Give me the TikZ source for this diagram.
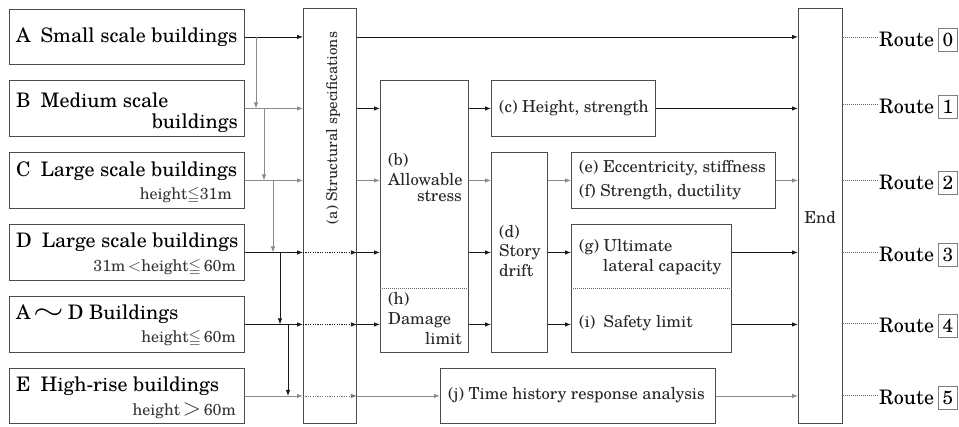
\documentclass[tikz,border=0pt]{standalone}
\usepackage{amssymb}
\usepackage{fontspec}
\setmainfont{TeX Gyre Schola}
\usetikzlibrary{arrows.meta}
\begin{document}
\begin{tikzpicture}[x=1pt,y=-1pt,
 box/.style={draw=black!70, line width=0.9pt, inner sep=0pt, anchor=north west},
 big/.style={font=\fontsize{20}{25}\selectfont, text=black, inner sep=0pt},
 sub/.style={font=\fontsize{16}{20}\selectfont, text=black!80, inner sep=0pt},
 intext/.style={font=\fontsize{16.5}{20}\selectfont, text=black!85, inner sep=0pt},
 arr/.style={draw=black!90, line width=0.8pt, -{Latex[length=6pt,width=4.5pt]}},
 garr/.style={arr, draw=black!45},
 darr/.style={arr, dash pattern=on 1.2pt off 1.2pt},
 divline/.style={draw=black!60, line width=0.8pt, dash pattern=on 1pt off 1pt},
 rline/.style={draw=black!60, line width=0.7pt, dash pattern=on 1pt off 1pt},
 route/.style={font=\fontsize{20}{24}\selectfont, inner sep=0pt},
 digit/.style={font=\fontsize{19}{24}\selectfont, draw=black!50, line width=0.6pt, inner sep=0pt, minimum width=19pt, minimum height=23pt},
]
\useasboundingbox (0,0) rectangle (959,426);
% left boxes
\node[box, minimum width=235pt, minimum height=55pt] (A) at (9,9) {};
\node[box, minimum width=235pt, minimum height=56pt] (B) at (9,80) {};
\node[box, minimum width=235pt, minimum height=56pt] (C) at (9,152) {};
\node[box, minimum width=235pt, minimum height=56pt] (D) at (9,224) {};
\node[box, minimum width=235pt, minimum height=56pt] (AD) at (9,296) {};
\node[box, minimum width=235pt, minimum height=55pt] (E) at (9,368) {};
% left texts
\node[big, anchor=west] (At) at (16,37) {A\enspace Small scale buildings};
\node[big, anchor=west] (Bt1) at (16,100) {B\enspace Medium scale};
\node[big, anchor=east] (Bt2) at (238,123) {buildings};
\node[big, anchor=west] (Ct1) at (16,171) {C\enspace Large scale buildings};
\node[sub, anchor=east] (Ct2) at (232,195) {height$\leqq$31m};
\node[big, anchor=west] (Dt1) at (16,242) {D\enspace Large scale buildings};
\node[sub, anchor=east] (Dt2) at (236,267) {31m\,$<$height$\leqq$\,60m};
\node[big, anchor=west] (ADt1) at (16,314) {A\,\scalebox{1.9}[1.4]{$\sim$}\,D Buildings};
\node[sub, anchor=east] (ADt2) at (236,338) {height$\leqq$\,60m};
\node[big, anchor=west] (Et1) at (16,386) {E\enspace High-rise buildings};
\node[sub, anchor=east] (Et2) at (236,411) {height\,\scalebox{1.4}{$>$}\,60m};
% middle boxes
\node[box, minimum width=53pt, minimum height=415pt] (a) at (303,8) {};
\node[box, minimum width=88pt, minimum height=272pt] (b) at (380,80) {};
\node[box, minimum width=164pt, minimum height=56pt] (c) at (491,80) {};
\node[box, minimum width=56pt, minimum height=200pt] (d) at (491,152) {};
\node[box, minimum width=204pt, minimum height=56pt] (ef) at (571,152) {};
\node[box, minimum width=160pt, minimum height=128pt] (gi) at (571,224) {};
\node[box, minimum width=275pt, minimum height=55pt] (j) at (440,368) {};
\node[box, minimum width=44pt, minimum height=415pt] (End) at (798,8) {};
\coordinate (hdiv) at (0,288);
\draw[divline] (b.west |- hdiv) -- (b.east |- hdiv);
\draw[divline] (gi.west |- hdiv) -- (gi.east |- hdiv);
% inner texts
\node[intext, rotate=90, font=\fontsize{15}{19}\selectfont] (at) at (333,128) {(a) Structural specifications};
\node[intext, anchor=west] (bt1) at (388,160) {(b)};
\node[intext, anchor=west] (bt2) at (388,180) {Allowable};
\node[intext, anchor=east] (bt3) at (462,196) {stress};
\node[intext, anchor=west] (ht1) at (388,299) {(h)};
\node[intext, anchor=west] (ht2) at (388,320) {Damage};
\node[intext, anchor=east] (ht3) at (462,339) {limit};
\node[intext, anchor=west] (ct) at (499,108) {(c) Height, strength};
\node[intext, anchor=west] (dt1) at (499,232) {(d)};
\node[intext, anchor=west] (dt2) at (499,252) {Story};
\node[intext, anchor=west] (dt3) at (499,271) {drift};
\node[intext, anchor=west] (et) at (579,168) {(e) Eccentricity, stiffness};
\node[intext, anchor=west] (ft) at (579,192) {(f) Strength, ductility};
\node[intext, anchor=west] (gt1) at (579,247) {(g) Ultimate};
\node[intext, anchor=west] (gt2) at (603,267) {lateral capacity};
\node[intext, anchor=west] (it) at (579,323) {(i)\enspace Safety limit};
\node[intext, anchor=west] (jt) at (448,395) {(j) Time history response analysis};
\node[intext] (endt) at (820,218) {End};
% left connectors
\draw[arr] (A.east) -- (A.east -| a.west);
\draw[garr] (B.east) -- (B.east -| a.west);
\draw[garr] (C.east) -- (C.east -| a.west);
\draw[arr] (D.east) -- (D.east -| a.west);
\draw[arr] (AD.east) -- (AD.east -| a.west);
\draw[garr] (E.east) -- (E.east -| a.west);
\coordinate (v1) at (256,0);
\coordinate (v2) at (264,0);
\coordinate (v3) at (273,0);
\coordinate (v4) at (280,0);
\coordinate (v5) at (288,0);
\draw[garr] (v1 |- A.east) -- (v1 |- B.east);
\draw[garr] (v2 |- B.east) -- (v2 |- C.east);
\draw[garr] (v3 |- C.east) -- (v3 |- D.east);
\draw[arr] (v4 |- D.east) -- (v4 |- AD.east);
\draw[arr] (v5 |- AD.east) -- (v5 |- E.east);
% through (a)
\draw[darr] (a.west |- D.east) -- (a.east |- D.east);
\draw[darr] (a.west |- AD.east) -- (a.east |- AD.east);
\draw[darr, draw=black!55] (a.west |- E.east) -- (a.east |- E.east);
% row A
\draw[arr] (a.east |- A.east) -- (End.west |- A.east);
% row B
\draw[arr] (a.east |- B.east) -- (b.west |- B.east);
\draw[arr] (b.east |- B.east) -- (c.west |- B.east);
\draw[arr] (c.east) -- (End.west |- c.east);
% row C
\draw[garr] (a.east |- C.east) -- (b.west |- C.east);
\draw[garr] (b.east |- C.east) -- (d.west |- C.east);
\draw[garr] (d.east |- C.east) -- (ef.west |- C.east);
\draw[garr] (ef.east |- C.east) -- (End.west |- C.east);
% row D
\draw[arr] (a.east |- D.east) -- (b.west |- D.east);
\draw[arr] (b.east |- D.east) -- (d.west |- D.east);
\draw[arr] (d.east |- D.east) -- (gi.west |- D.east);
\draw[arr] (gi.east |- D.east) -- (End.west |- D.east);
% row AD
\draw[arr] (a.east |- AD.east) -- (b.west |- AD.east);
\draw[arr] (b.east |- AD.east) -- (d.west |- AD.east);
\draw[arr] (d.east |- AD.east) -- (gi.west |- AD.east);
\draw[arr] (gi.east |- AD.east) -- (End.west |- AD.east);
% row E
\draw[garr] (a.east |- E.east) -- (j.west |- E.east);
\draw[garr] (j.east |- E.east) -- (End.west |- E.east);
% routes
\foreach \i/\ly in {0/37,1/104,2/180,3/252,4/323,5/395}{
  \coordinate (L\i) at (877,\ly);
  \node[route, anchor=west] (R\i) at (879,\ly+2.5) {Route};
  \node[digit, anchor=west] (N\i) at (938,\ly+2.5) {\i};
  \draw[rline] (End.east |- L\i) -- (L\i);
}
\end{tikzpicture}
\end{document}
